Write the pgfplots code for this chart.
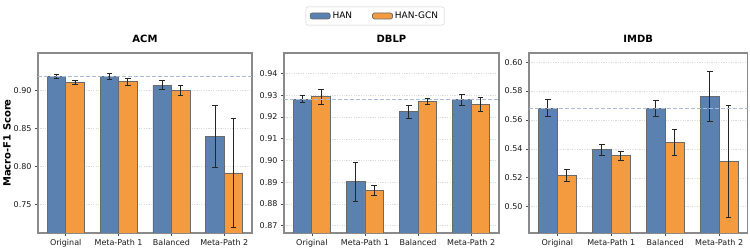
\documentclass[border=0pt]{standalone}
\usepackage{fontspec}
\setmainfont{DejaVu Sans}
\usepackage{pgfplots}
\pgfplotsset{compat=1.18}
\definecolor{hanblue}{HTML}{5B81B0}
\definecolor{gcnorange}{HTML}{F39B3E}
\definecolor{edgegray}{HTML}{6A6A6A}
\definecolor{framegray}{HTML}{8A8A8A}
\definecolor{refblue}{HTML}{A9BCDA}
\pgfplotsset{
  panel/.style={
    scale only axis, height=180bp, anchor=south west,
    xmin=-0.525, xmax=3.525,
    xtick={0,1,2,3},
    xticklabels={Original,Meta-Path 1,Balanced,Meta-Path 2},
    tick pos=left, tick align=outside, major tick length=3bp,
    tick style={black!70, line width=0.6bp},
    axis line style={framegray, line width=1.3bp},
    ymajorgrids, major grid style={black!14, line width=0.5bp, dash pattern=on 1.2bp off 1.2bp},
    tick label style={font=\fontsize{8bp}{9bp}\selectfont, black!90},
    /pgf/number format/assume math mode=true,
    yticklabel style={/pgf/number format/fixed, /pgf/number format/fixed zerofill, /pgf/number format/precision=2},
    title style={font=\bfseries\fontsize{10bp}{12bp}\selectfont, yshift=1bp},
    ylabel style={font=\bfseries\fontsize{10bp}{12bp}\selectfont},
    ylabel shift=-4bp,
    error bars/error bar style={line width=0.9bp, black!85},
    error bars/error mark options={rotate=90, mark size=2.8bp, line width=0.9bp, black!85},
  },
  hanbar/.style={ybar, bar width=0.35, bar shift=0pt, fill=hanblue, draw=edgegray, line width=0.8bp,
    error bars/.cd, y dir=both, y explicit},
  gcnbar/.style={ybar, bar width=0.35, bar shift=0pt, fill=gcnorange, draw=edgegray, line width=0.8bp,
    error bars/.cd, y dir=both, y explicit},
  refline/.style={refblue, line width=0.9bp, dash pattern=on 4bp off 2bp, forget plot},
}
\begin{document}
\begin{tikzpicture}
\path[use as bounding box] (0,0) rectangle (750bp,250bp);
% ACM
\begin{axis}[panel, at={(38bp,17bp)}, width=214bp,
  ymin=0.712, ymax=0.949, ytick={0.75,0.80,0.85,0.90},
  title={ACM}, ylabel={Macro-F1 Score}]
\addplot[hanbar] coordinates {(-0.175,0.918) +- (0,0.0026) (0.825,0.918) +- (0,0.0039) (1.825,0.9066) +- (0,0.006) (2.825,0.839) +- (0,0.041)};
\addplot[gcnbar] coordinates {(0.175,0.9105) +- (0,0.0028) (1.175,0.911) +- (0,0.0042) (2.175,0.900) +- (0,0.0065) (3.175,0.791) +- (0,0.0715)};
\addplot[refline] coordinates {(-0.525,0.918) (3.525,0.918)};
\end{axis}
% DBLP
\begin{axis}[panel, at={(284bp,17bp)}, width=215bp,
  ymin=0.8666, ymax=0.9495, ytick={0.87,0.88,0.89,0.90,0.91,0.92,0.93,0.94},
  title={DBLP},
  legend columns=2,
  legend style={at={(axis description cs:0.423,1.2056)}, anchor=center,
    draw=black!20, rounded corners=2bp, fill=white,
    font=\fontsize{9bp}{10bp}\selectfont, inner xsep=4bp, inner ysep=3bp,
    /tikz/every even column/.append style={column sep=18bp}},
  legend image code/.code={\draw[#1, line width=0.7bp] (0bp,-3bp) rectangle (20bp,3bp);},
  ]
\addplot[hanbar] coordinates {(-0.175,0.9282) +- (0,0.0016) (0.825,0.8902) +- (0,0.009) (1.825,0.9225) +- (0,0.003) (2.825,0.9279) +- (0,0.0025)};
\addlegendentry{HAN}
\addplot[gcnbar] coordinates {(0.175,0.9294) +- (0,0.0035) (1.175,0.8862) +- (0,0.0023) (2.175,0.9273) +- (0,0.0014) (3.175,0.9257) +- (0,0.0032)};
\addlegendentry{HAN-GCN}
\addplot[refline] coordinates {(-0.525,0.9283) (3.525,0.9283)};
\end{axis}
% IMDB
\begin{axis}[panel, at={(529bp,17bp)}, width=218.5bp,
  ymin=0.4818, ymax=0.6063, ytick={0.50,0.52,0.54,0.56,0.58,0.60},
  title={IMDB}]
\addplot[hanbar] coordinates {(-0.175,0.568) +- (0,0.0059) (0.825,0.5394) +- (0,0.0039) (1.825,0.568) +- (0,0.0058) (2.825,0.5762) +- (0,0.017)};
\addplot[gcnbar] coordinates {(0.175,0.5217) +- (0,0.004) (1.175,0.5353) +- (0,0.0031) (2.175,0.5444) +- (0,0.0088) (3.175,0.5313) +- (0,0.039)};
\addplot[refline] coordinates {(-0.525,0.568) (3.525,0.568)};
\end{axis}
\end{tikzpicture}
\end{document}
